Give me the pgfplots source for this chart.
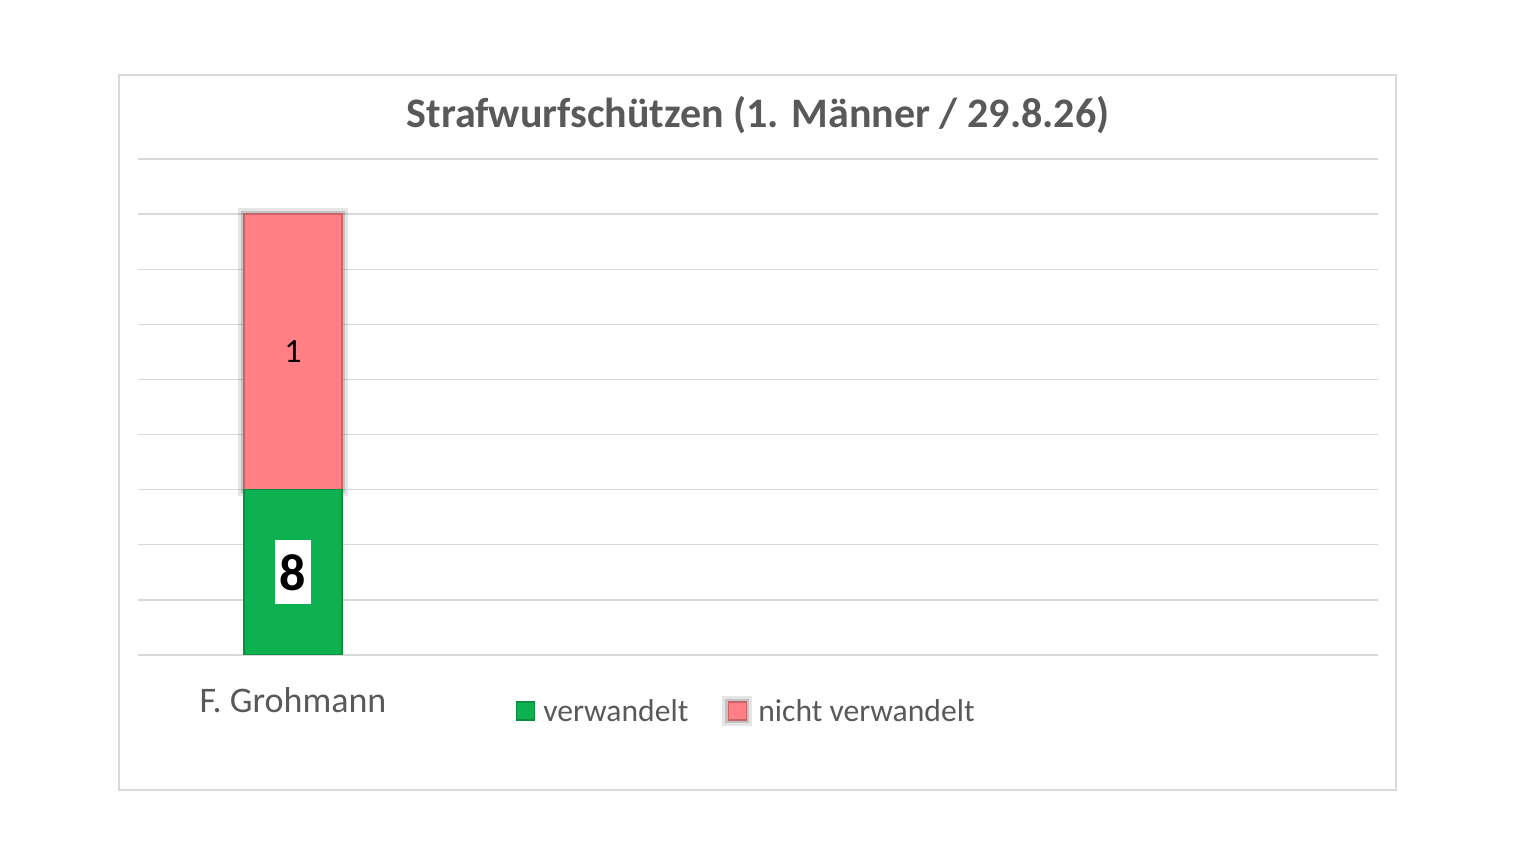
\documentclass[border=0pt]{standalone}
\usepackage{pgfplots}
\pgfplotsset{compat=1.18}
\usepackage{fontspec}
\setmainfont{Carlito}
\definecolor{txtgray}{HTML}{595959}
\definecolor{gridgray}{HTML}{D9D9D9}
\definecolor{barG}{HTML}{0DB14F}
\definecolor{barGd}{HTML}{0A8F40}
\definecolor{barR}{HTML}{FF7F84}
\definecolor{barRd}{HTML}{C8646A}
\begin{document}
\begin{tikzpicture}
\path[use as bounding box] (0,0) rectangle (1523bp,861bp);
\draw[gridgray, line width=1.5bp] (119bp,71bp) rectangle (1396bp,786bp);
\node[font=\fontsize{42bp}{48bp}\selectfont\bfseries, text=txtgray] at (758bp,746bp) {Strafwurfschützen (1. Männer / 29.8.26)};
\begin{axis}[
  at={(138bp,206bp)}, anchor=south west,
  scale only axis, width=1240bp, height=496bp,
  ybar stacked, bar width=0.316,
  xmin=-0.5, xmax=3.5, ymin=0, ymax=9,
  ytick={0,1,...,9}, yticklabels={},
  xtick={0}, xticklabels={F. Grohmann},
  major tick length=0pt,
  axis line style={draw=none},
  ymajorgrids, grid style={draw=gridgray, line width=1.3bp},
  xticklabel style={font=\fontsize{36bp}{40bp}\selectfont, text=txtgray, yshift=-29bp},
  legend columns=2,
  legend style={at={(0.4905,-0.113)}, anchor=center, draw=none, fill=none,
    font=\fontsize{31.6bp}{36bp}\selectfont, text=txtgray,
    /tikz/every even column/.append style={column sep=32bp}},
  legend image code/.code={\draw[#1] (0bp,-9bp) rectangle (18bp,9bp);},
  point meta=explicit symbolic,
  nodes near coords,
]
\addplot[fill=barG, draw=barGd, line width=1.5bp,
  every node near coord/.append style={anchor=center, fill=white, text=black,
    font=\fontsize{52bp}{56bp}\selectfont\bfseries, inner sep=0pt, minimum width=36bp, minimum height=64bp}]
  coordinates {(0,3) [8]};
\addplot[fill=barR, draw=barRd, line width=1.5bp,
  preaction={draw=black, draw opacity=0.10, line width=12bp},
  preaction={draw=black, draw opacity=0.15, line width=6bp},
  every node near coord/.append style={anchor=center, text=black,
    font=\fontsize{34bp}{38bp}\selectfont}]
  coordinates {(0,5) [1]};
\legend{\hspace{6bp}verwandelt, \hspace{4bp}nicht verwandelt}
\end{axis}
\end{tikzpicture}
\end{document}
